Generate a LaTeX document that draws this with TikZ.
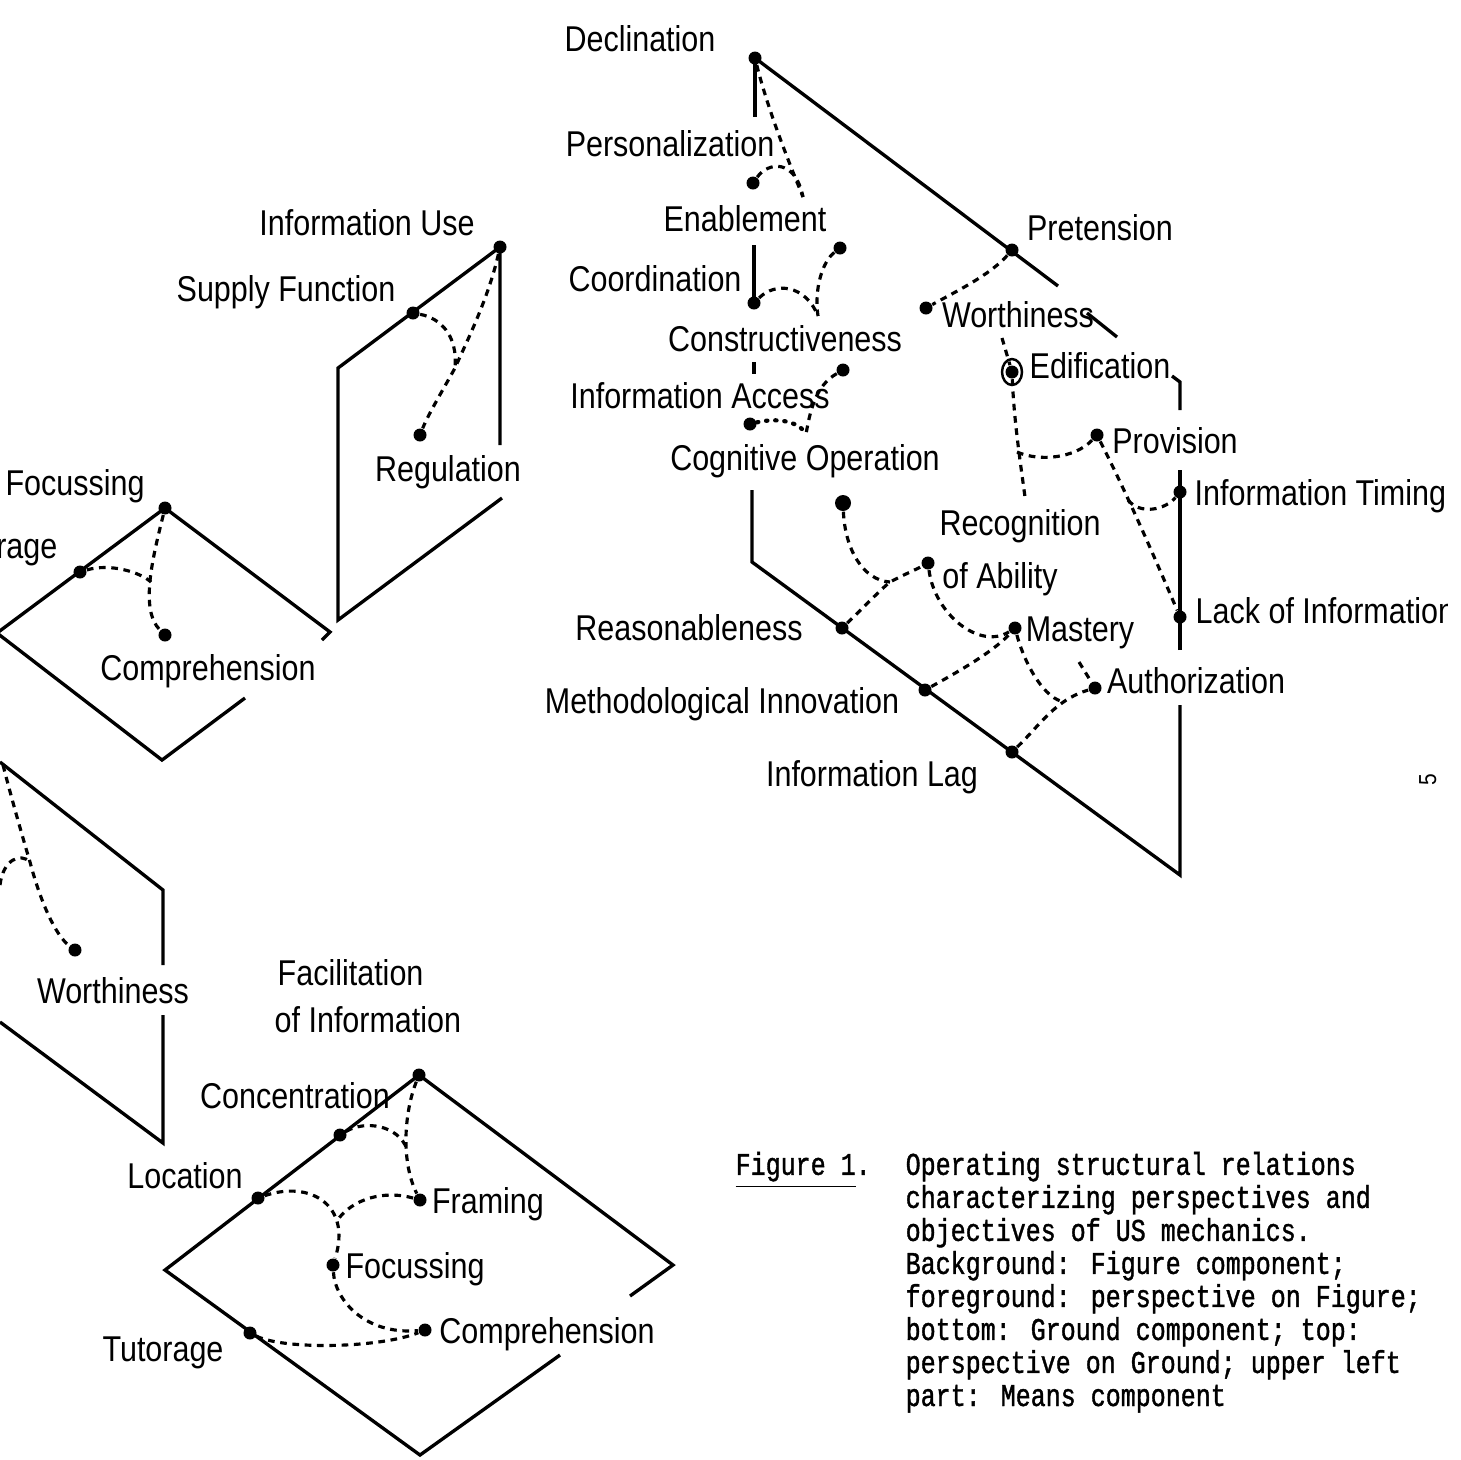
\documentclass[tikz,border=0pt]{standalone}
\usepackage{fontspec}
\newfontfamily\lblfont[FakeStretch=0.85]{Liberation Sans}
\newfontfamily\capfont[FakeStretch=0.79,FakeBold=1.2]{Liberation Mono}

\begin{document}
\begin{tikzpicture}[x=0.01cm,y=-0.01cm,
  frame/.style={line width=0.95pt},
  link/.style={line width=0.9pt,dash pattern=on 1.9pt off 1.6pt},
  dotlink/.style={line width=1.2pt,dash pattern=on 0.4pt off 2.2pt,line cap=round},
  pt/.style={circle,fill,inner sep=0pt,minimum size=0.13cm},
  lbl/.style={font=\lblfont\fontsize{10.2pt}{12pt}\selectfont,inner sep=0pt,anchor=base},
  capL/.style={font=\capfont\fontsize{9pt}{9.39pt}\selectfont,inner sep=0pt}]

\useasboundingbox (0,0) rectangle (1461,1459);

%%%%%%%%%%%%%%% background and foreground (Figure)

\node[pt] (decl) at (755,58) {};
\node[pt] (pers) at (753,183) {};
\node[pt] (enab) at (840,248) {};
\node[pt] (coord) at (754,303) {};
\node[pt] (constr) at (843,370) {};
\node[pt] (infacc) at (750,424) {};
\node[pt,minimum size=0.16cm] (cogop) at (843,503) {};
\node[pt] (recog) at (928,563) {};
\node[pt] (reason) at (842,628) {};
\node[pt] (mastery) at (1015,628) {};
\node[pt] (methinn) at (925,690) {};
\node[pt] (authz) at (1095,688) {};
\node[pt] (inflag) at (1012,752) {};
\node[pt] (preten) at (1012,250) {};
\node[pt] (worth) at (926,308) {};
\node[pt] (edif) at (1012,372) {};
\node[pt] (prov) at (1097,435) {};
\node[pt] (inftim) at (1180,492) {};
\node[pt] (lackinf) at (1180,617) {};

\coordinate (j1) at (803,197);
\coordinate (j2) at (818,316);
\coordinate (j3) at (806,434);
\coordinate (j4) at (890,582);
\coordinate (j5) at (1065,702);
\coordinate (a0) at (1079,662);
\coordinate (w0) at (1002,338);
\coordinate (j6) at (1025,497);
\coordinate (j7) at (1017,452);
\coordinate (j8) at (1128,500);

\draw[frame] (decl.center) -- (755,117);
\draw[frame] (754,245) -- (coord.center);
\draw[frame] (754,362) -- (754,374);
\draw[frame] (752,490) -- (752,562) -- (1180,875) -- (1180,705);
\draw[frame] (1180,650) -- (1180,470);
\draw[frame] (1180,410) -- (1180,382) -- (1172,376);
\draw[frame] (decl.center) -- (1058,286);
\draw[frame] (1087,313) -- (1117,337);
\draw[line width=0.7pt] (edif) ellipse (10 and 13);

\draw[link] (decl) .. controls (768,110) and (788,160) .. (j1);
\draw[link] (pers) .. controls (768,162) and (795,158) .. (j1);
\draw[link] (enab) .. controls (822,262) and (814,290) .. (j2);
\draw[link] (coord) .. controls (775,282) and (805,284) .. (j2);
\draw[link] (constr) .. controls (815,386) and (810,412) .. (j3);
\draw[dotlink] (infacc) .. controls (775,418) and (798,420) .. (j3);
\draw[link] (cogop) .. controls (845,548) and (862,580) .. (j4);
\draw[link] (reason) .. controls (865,606) and (880,590) .. (j4) .. controls (905,574) and (915,570) .. (recog);
\draw[link] (recog) .. controls (935,615) and (980,650) .. (mastery);
\draw[link] (methinn) .. controls (965,668) and (995,650) .. (mastery);
\draw[link] (mastery) .. controls (1025,665) and (1045,700) .. (j5);
\draw[link] (inflag) .. controls (1040,725) and (1055,700) .. (authz);
\draw[link] (a0) -- (authz);
\draw[link] (preten) .. controls (990,275) and (955,292) .. (worth);
\draw[link] (w0) -- (edif);
\draw[link] (edif) .. controls (1014,420) and (1020,460) .. (j6);
\draw[link] (j7) .. controls (1040,462) and (1075,458) .. (prov);
\draw[link] (prov) .. controls (1130,500) and (1160,570) .. (lackinf);
\draw[link] (j8) .. controls (1140,515) and (1165,510) .. (inftim);

\node[lbl] (declL) at (640,51) {Declination};
\node[lbl] (persL) at (670,156) {Personalization};
\node[lbl] (enabL) at (745,231) {Enablement};
\node[lbl] (coordL) at (655,291) {Coordination};
\node[lbl] (constrL) at (785,351) {Constructiveness};
\node[lbl] (infaccL) at (700,408) {Information Access};
\node[lbl] (cogopL) at (805,470) {Cognitive Operation};
\node[lbl] (pretenL) at (1100,240) {Pretension};
\node[lbl] (worthL) at (1018,327) {Worthiness};
\node[lbl] (edifL) at (1100,378) {Edification};
\node[lbl] (provL) at (1175,453) {Provision};
\node[lbl] (recogL) at (1020,535) {Recognition};
\node[lbl] (abilL) at (1000,588) {of Ability};
\node[lbl] (masteryL) at (1080,641) {Mastery};
\node[lbl] (reasonL) at (689,640) {Reasonableness};
\node[lbl] (authzL) at (1196,693) {Authorization};
\node[lbl] (methinnL) at (722,713) {Methodological Innovation};
\node[lbl] (inflagL) at (872,786) {Information Lag};
\begin{scope}
\clip (0,0) rectangle (1447,1459);
\node[lbl,anchor=base west] (inftimL) at (1194,505) {Information Timing};
\node[lbl,anchor=base west] (lackinfL) at (1195,623) {Lack of Information};
\end{scope}
\node[lbl,font=\lblfont\fontsize{7pt}{8pt}\selectfont,rotate=90] (pgno) at (1436,780) {5};

%%%%%%%%%%%%%%% upper left (Means)

\node[pt] (infuse) at (500,247) {};
\node[pt] (supfn) at (413,313) {};
\node[pt] (regul) at (420,435) {};
\coordinate (j9) at (455,368);

\draw[frame] (500,445) -- (infuse.center) -- (338,368) -- (338,620) -- (502,498);
\draw[link] (infuse) .. controls (488,300) and (465,345) .. (j9) .. controls (440,395) and (428,415) .. (regul);
\draw[link] (supfn) .. controls (440,318) and (458,335) .. (j9);

\node[lbl] (infuseL) at (367,235) {Information Use};
\node[lbl] (supfnL) at (286,301) {Supply Function};
\node[lbl] (regulL) at (448,481) {Regulation};

%%%%%%%%%%%%%%% middle left

\node[pt] (focus1) at (165,508) {};
\node[pt] (tut1) at (80,572) {};
\node[pt] (compr1) at (165,635) {};
\coordinate (j10) at (151,582);

\draw[frame] (322,640) -- (330,632) -- (focus1.center) -- (-3,633) -- (162,760) -- (245,698);
\draw[link] (focus1) .. controls (152,560) and (140,610) .. (compr1);
\draw[link] (tut1) .. controls (110,563) and (140,572) .. (j10);

\node[lbl] (focus1L) at (75,495) {Focussing};
\node[lbl,anchor=base east] (tut1L) at (58,558) {Tutorage};
\node[lbl] (compr1L) at (208,680) {Comprehension};

%%%%%%%%%%%%%%% lower left

\node[pt] (worth2) at (75,950) {};
\coordinate (c0) at (3,765);
\coordinate (c1) at (0,885);
\coordinate (c2) at (30,862);

\draw[frame] (0,762) -- (163,890) -- (163,965);
\draw[frame] (163,1015) -- (163,1143) -- (0,1022);
\draw[link] (c0) .. controls (12,800) and (22,835) .. (c2) .. controls (40,900) and (55,935) .. (worth2);
\draw[link] (c1) .. controls (3,860) and (20,852) .. (c2);

\node[lbl] (worth2L) at (113,1003) {Worthiness};

%%%%%%%%%%%%%%% bottom (Ground) and top (perspective on Ground)

\node[pt] (facil) at (419,1075) {};
\node[pt] (concen) at (340,1135) {};
\node[pt] (locat) at (258,1198) {};
\node[pt] (framg) at (420,1200) {};
\node[pt] (focus2) at (333,1265) {};
\node[pt] (compr2) at (425,1330) {};
\node[pt] (tut2) at (250,1333) {};
\coordinate (j11) at (407,1149);
\coordinate (j12) at (336,1222);

\draw[frame] (560,1355) -- (420,1455) -- (165,1270) -- (facil.center) -- (673,1265) -- (630,1296);
\draw[link] (facil) .. controls (405,1110) and (400,1160) .. (framg);
\draw[link] (concen) .. controls (365,1120) and (398,1125) .. (j11);
\draw[link] (locat) .. controls (310,1180) and (352,1205) .. (focus2);
\draw[link] (framg) .. controls (385,1190) and (352,1198) .. (j12);
\draw[link] (focus2) .. controls (335,1300) and (365,1335) .. (compr2);
\draw[link] (tut2) .. controls (285,1350) and (380,1348) .. (compr2);

\node[lbl,anchor=base west] (facilL) at (277,985) {Facilitation};
\node[lbl,anchor=base west] (facilL2) at (274,1032) {of Information};
\node[lbl] (concenL) at (295,1108) {Concentration};
\node[lbl] (locatL) at (185,1188) {Location};
\node[lbl] (framgL) at (488,1213) {Framing};
\node[lbl] (focus2L) at (415,1278) {Focussing};
\node[lbl] (compr2L) at (547,1343) {Comprehension};
\node[lbl] (tut2L) at (163,1361) {Tutorage};

%%%%%%%%%%%%%%% caption

\node[capL,anchor=north west] (capF) at (735,1151) {\strut\underline{Figure 1}.};
\node[capL,anchor=north west,align=left] (capT) at (905,1151) {\strut Operating structural relations\\
characterizing perspectives and\\
objectives of US mechanics.\\
Background: Figure component;\\
foreground: perspective on Figure;\\
bottom: Ground component; top:\\
perspective on Ground; upper left\\
part: Means component};

\end{tikzpicture}
\end{document}
